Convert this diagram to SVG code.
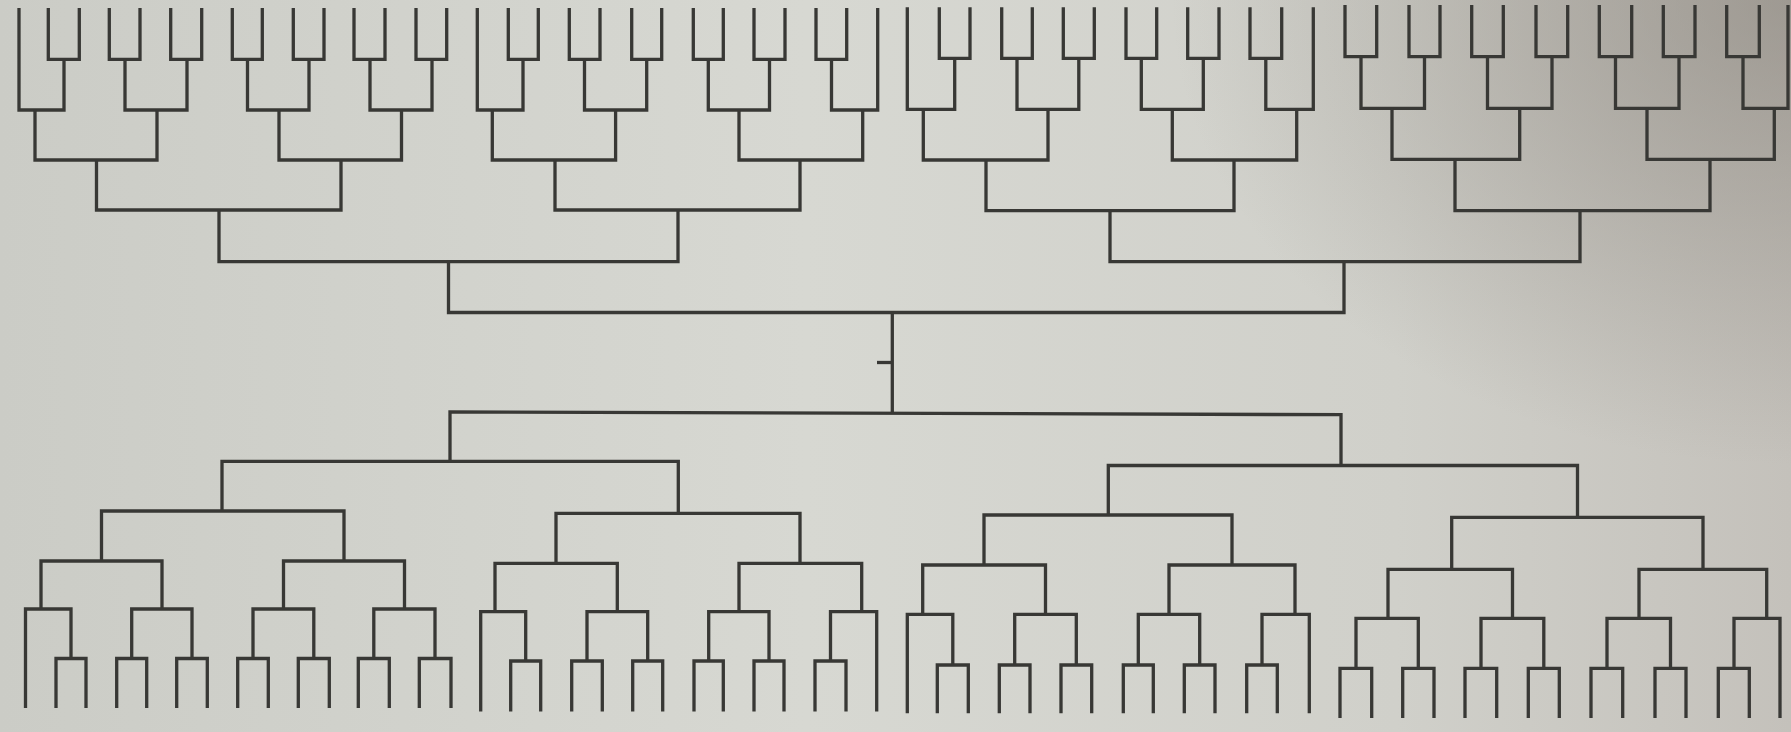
<svg xmlns="http://www.w3.org/2000/svg" width="1791" height="732" viewBox="0 0 1791 732">
<defs>
<linearGradient id="bg" x1="0" y1="0" x2="1" y2="0">
<stop offset="0" stop-color="#cbccc6"/>
<stop offset="0.45" stop-color="#d7d8d2"/>
<stop offset="0.78" stop-color="#d0d0ca"/>
<stop offset="1" stop-color="#c4c1bb"/>
</linearGradient>
<radialGradient id="shade" cx="1791" cy="0" r="620" gradientUnits="userSpaceOnUse" gradientTransform="translate(1791 0) scale(1 0.75) translate(-1791 0)">
<stop offset="0" stop-color="#857f77" stop-opacity="0.6"/>
<stop offset="1" stop-color="#857f77" stop-opacity="0"/>
</radialGradient>
</defs>
<style>
.ln{fill:none;stroke:#383835;stroke-width:3.3;stroke-linejoin:miter;stroke-linecap:butt}
</style>
<rect x="0" y="0" width="1791" height="732" fill="url(#bg)"/>
<rect x="0" y="0" width="1791" height="732" fill="url(#shade)"/>
<g id="connectors" class="ln">
<g id="top-q1">
<path d="M19 8V110H64V59.3"/>
<path d="M48.3 8V59.3H79.3V8"/>
<path d="M109.3 8V59.3H140V8"/>
<path d="M170.7 8V59.3H201.7V8"/>
<path d="M232.3 8V59.3H262.3V8"/>
<path d="M293.3 8V59.3H324V8"/>
<path d="M354 8V59.3H385V8"/>
<path d="M416 8V59.3H446.7V8"/>
<path d="M125 59.3V110H187V59.3"/>
<path d="M247.5 59.3V110H309V59.3"/>
<path d="M370 59.3V110H432V59.3"/>
<path d="M35 110V160H157V110"/>
<path d="M279 110V160H401.5V110"/>
<path d="M96.5 160V210H341V160"/>
<path d="M219 210V261.7H678V210"/>
</g>
<g id="top-q2">
<path d="M477.3 8V110H523V59.3"/>
<path d="M508.3 8V59.3H538.3V8"/>
<path d="M569.3 8V59.3H600V8"/>
<path d="M631.7 8V59.3H661.7V8"/>
<path d="M693.3 8V59.3H723.3V8"/>
<path d="M754 8V59.3H785V8"/>
<path d="M816 8V59.3H846.7V8"/>
<path d="M877.7 8V110H831.5V59.3"/>
<path d="M584.5 59.3V110H646.7V59.3"/>
<path d="M708.3 59.3V110H769.5V59.3"/>
<path d="M492.3 110V160H615.6V110"/>
<path d="M739 110V160H862.7V110"/>
<path d="M555 160V210H800V160"/>
</g>
<g id="top-q3">
<path d="M907.3 7.3V109.3H954.7V58.3"/>
<path d="M939.3 7.3V58.3H970V7.3"/>
<path d="M1001.7 7.3V58.3H1032.3V7.3"/>
<path d="M1063.3 7.3V58.3H1094.3V7.3"/>
<path d="M1126 7.3V58.3H1156.7V7.3"/>
<path d="M1187.7 7.3V58.3H1219V7.3"/>
<path d="M1250 7.3V58.3H1281.7V7.3"/>
<path d="M1313.3 7.3V109.3H1265.8V58.3"/>
<path d="M1017 58.3V109.3H1078.8V58.3"/>
<path d="M1141.3 58.3V109.3H1203.3V58.3"/>
<path d="M923.3 109.3V160H1048V109.3"/>
<path d="M1172.3 109.3V160H1296.7V109.3"/>
<path d="M986 160V210.7H1234V160"/>
<path d="M1110 210.7V261.7H1580V210.7"/>
</g>
<g id="top-q4">
<path d="M1345 5V56.7H1376.7V5"/>
<path d="M1409 5V56.7H1440V5"/>
<path d="M1471.7 5V56.7H1503.3V5"/>
<path d="M1536 5V56.7H1567.7V5"/>
<path d="M1599.3 5V56.7H1631.7V5"/>
<path d="M1663.3 5V56.7H1695V5"/>
<path d="M1726.7 5V56.7H1759.3V5"/>
<path d="M1788 5V108.3H1743V56.7"/>
<path d="M1361 56.7V108.3H1424.5V56.7"/>
<path d="M1487.5 56.7V108.3H1552V56.7"/>
<path d="M1615.5 56.7V108.3H1679V56.7"/>
<path d="M1392 108.3V159.3H1519.7V108.3"/>
<path d="M1647 108.3V159.3H1774.3V108.3"/>
<path d="M1455 159.3V210.7H1710V159.3"/>
</g>
<g id="center">
<path d="M448.5 261.7V312.5H1344V261.7"/>
<path d="M892.3 312.5V413.3"/>
<path d="M877 362.5H892.3"/>
<path d="M450 461.3V412L1341 414.7V465.5"/>
</g>
<g id="bottom-q1">
<path d="M222 511V461.3H678.3V513.3"/>
<path d="M101.5 561V511H344V561"/>
<path d="M41 609V561H162V609"/>
<path d="M283.5 609V561H404.5V609"/>
<path d="M25.5 708V609H71V658.5"/>
<path d="M131.7 658.5V609H192V658.5"/>
<path d="M253 658.5V609H313.8V658.5"/>
<path d="M373.8 658.5V609H435V658.5"/>
<path d="M56 708V658.5H86V708"/>
<path d="M116.7 708V658.5H146.7V708"/>
<path d="M176.7 708V658.5H207.3V708"/>
<path d="M237.7 708V658.5H268.3V708"/>
<path d="M298.3 708V658.5H329.3V708"/>
<path d="M358.3 708V658.5H389.3V708"/>
<path d="M419.3 708V658.5H451V708"/>
</g>
<g id="bottom-q2">
<path d="M556 563.3V513.3H800V563.3"/>
<path d="M495 611.7V563.3H617.3V611.7"/>
<path d="M739 611.7V563.3H861.7V611.7"/>
<path d="M480.7 711.5V611.7H525.7V661"/>
<path d="M587 661V611.7H647.7V661"/>
<path d="M708.7 661V611.7H769V661"/>
<path d="M876.7 711.5V611.7H830.5V661"/>
<path d="M510.7 711.5V661H540.7V711.5"/>
<path d="M571.7 711.5V661H602.3V711.5"/>
<path d="M632.7 711.5V661H662.7V711.5"/>
<path d="M694 711.5V661H723.3V711.5"/>
<path d="M754 711.5V661H784V711.5"/>
<path d="M815 711.5V661H846V711.5"/>
</g>
<g id="bottom-q3">
<path d="M1108.3 515V465.5H1577.5V517.3"/>
<path d="M984 565V515H1232V565"/>
<path d="M922.7 614.3V565H1045.5V614.3"/>
<path d="M1169 614.3V565H1295V614.3"/>
<path d="M907.3 713.3V614.3H952.8V665"/>
<path d="M1014.7 665V614.3H1076.3V665"/>
<path d="M1138.3 665V614.3H1199.7V665"/>
<path d="M1309.3 713.3V614.3H1262V665"/>
<path d="M937.3 713.3V665H968.3V713.3"/>
<path d="M999.3 713.3V665H1030V713.3"/>
<path d="M1061 713.3V665H1091.7V713.3"/>
<path d="M1123.3 713.3V665H1153.3V713.3"/>
<path d="M1184.3 713.3V665H1215V713.3"/>
<path d="M1246.7 713.3V665H1277.3V713.3"/>
</g>
<g id="bottom-q4">
<path d="M1451.7 569.3V517.3H1703V569.3"/>
<path d="M1388 618.3V569.3H1512.5V618.3"/>
<path d="M1639 618.3V569.3H1766.7V618.3"/>
<path d="M1356 668.3V618.3H1418.3V668.3"/>
<path d="M1481 668.3V618.3H1543.8V668.3"/>
<path d="M1607 668.3V618.3H1670.5V668.3"/>
<path d="M1780 718V618.3H1734V668.3"/>
<path d="M1340 718V668.3H1371.7V718"/>
<path d="M1402.7 718V668.3H1434V718"/>
<path d="M1465 718V668.3H1496.7V718"/>
<path d="M1528.3 718V668.3H1559.3V718"/>
<path d="M1591 718V668.3H1622.7V718"/>
<path d="M1655 718V668.3H1686V718"/>
<path d="M1718.3 718V668.3H1749.3V718"/>
</g>
</g>
</svg>
